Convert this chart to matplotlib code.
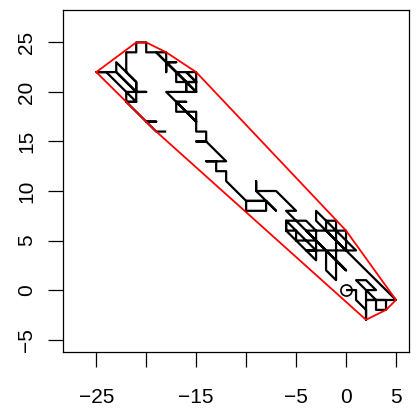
import matplotlib
matplotlib.use("Agg")
import matplotlib.pyplot as plt
import numpy as np

# lattice walk (start at the circle)
walk_start = [(0, 0), (1, 0), (1, -1), (2, -2), (2, -3), (2, -2), (2, -1), (2, 0), (1, 1), (2, 1),
              (3, 0), (2, 0), (3, -1), (2, -1), (3, -1), (3, -2), (4, -2), (4, -1), (3, -1), (4, -1),
              (5, -1), (4, 0), (3, 1), (2, 2), (1, 3), (0, 4), (-1, 5)]
walk_cluster = [(-1, 5), (-2, 6), (-3, 7), (-3, 8), (-2, 7), (-1, 6), (0, 5), (1, 4), (0, 4), (-1, 4),
                (-2, 4), (-2, 3), (-2, 2), (-1, 1), (-1, 2), (-1, 3), (0, 2), (-1, 3), (-1, 4), (-1, 5),
                (-1, 6), (-1, 7), (-2, 7), (-2, 6), (-1, 6), (0, 6), (0, 5), (0, 4), (-1, 5), (-2, 6),
                (-3, 6), (-3, 5), (-3, 4), (-3, 3), (-4, 4), (-3, 4), (-4, 4), (-5, 5), (-6, 6), (-5, 6),
                (-5, 5), (-4, 5), (-3, 5), (-2, 4), (-1, 3), (0, 2), (-1, 3), (-2, 4), (-3, 5), (-4, 6),
                (-3, 6), (-4, 7), (-5, 7), (-6, 7), (-6, 6), (-6, 7), (-5, 6), (-4, 5), (-3, 4), (-2, 4),
                (-3, 5), (-4, 6), (-5, 7), (-6, 8), (-5, 8)]
walk_chain = [(-5, 8), (-6, 9), (-7, 10), (-8, 10), (-9, 10), (-9, 11), (-9, 10), (-8, 9), (-7, 8), (-8, 9),
              (-9, 9), (-10, 9), (-10, 8), (-9, 8), (-8, 8), (-8, 9), (-9, 9), (-10, 9), (-11, 10), (-12, 11),
              (-12, 12), (-13, 12), (-13, 13), (-14, 13), (-13, 13), (-12, 13), (-13, 14), (-14, 15), (-15, 15),
              (-14, 15), (-14, 16), (-15, 16), (-15, 17)]
walk_top = [(-15, 17), (-15, 18), (-16, 18), (-17, 18), (-17, 19), (-16, 18), (-15, 17), (-16, 18), (-17, 19),
            (-16, 19), (-17, 19), (-18, 20), (-17, 20), (-16, 20), (-15, 20), (-15, 21), (-16, 21), (-17, 21),
            (-17, 22), (-16, 21), (-16, 20), (-16, 21), (-15, 21), (-15, 22), (-16, 22), (-15, 21), (-16, 22),
            (-17, 22), (-18, 23), (-17, 23), (-18, 23), (-18, 22), (-18, 23), (-18, 24), (-19, 24),
            (-18, 23), (-17, 22), (-16, 21), (-15, 20), (-16, 21), (-17, 22), (-18, 23), (-19, 24)]
walk_left = [(-19, 24), (-20, 24), (-20, 25), (-21, 25), (-21, 24), (-22, 24), (-22, 23), (-22, 22),
             (-23, 23), (-23, 22), (-22, 21), (-21, 20), (-22, 21), (-23, 22), (-24, 22), (-25, 22),
             (-24, 22), (-23, 21), (-22, 20), (-21, 19), (-22, 19), (-22, 20), (-21, 20), (-20, 20),
             (-21, 20), (-21, 21), (-22, 22), (-21, 21), (-21, 20), (-21, 19), (-22, 19), (-21, 18),
             (-20, 17), (-19, 17), (-20, 17), (-19, 16), (-18, 16)]

pieces = [walk_start, walk_cluster[1:], walk_chain[1:], walk_top[1:], walk_left[1:]]
pts = np.array([p for piece in pieces for p in piece], dtype=float)


def convex_hull(p):
    # monotone chain
    q = sorted(set(map(tuple, p)))

    def cross(o, a, b):
        return (a[0] - o[0]) * (b[1] - o[1]) - (a[1] - o[1]) * (b[0] - o[0])

    lower, upper = [], []
    for r in q:
        while len(lower) >= 2 and cross(lower[-2], lower[-1], r) <= 0:
            lower.pop()
        lower.append(r)
    for r in reversed(q):
        while len(upper) >= 2 and cross(upper[-2], upper[-1], r) <= 0:
            upper.pop()
        upper.append(r)
    h = lower[:-1] + upper[:-1]
    h.append(h[0])
    return np.array(h)


hull = convex_hull(pts)

plt.rcParams['font.family'] = ['Liberation Sans', 'DejaVu Sans']
fig = plt.figure(figsize=(4.2, 4.16), dpi=100)
ax = fig.add_axes([63.3 / 420, 1 - 351.5 / 416, 346.0 / 420, 341.5 / 416])

ax.plot(pts[:, 0], pts[:, 1], color='black', linewidth=1.6, solid_capstyle='butt', zorder=2)
ax.plot(hull[:, 0], hull[:, 1], color='red', linewidth=1.3, zorder=3)
ax.plot([0], [0], marker='o', markersize=8, markerfacecolor='none', markeredgecolor='black',
        markeredgewidth=1.2, linestyle='none', zorder=4)

ax.set_xlim(-28.3, 6.33)
ax.set_ylim(-6.2, 28.27)

ax.set_xticks([-25, -20, -15, -10, -5, 0, 5])
ax.set_xticklabels(['\u221225', '', '\u221215', '', '\u22125', '0', '5'])
ax.set_yticks([-5, 0, 5, 10, 15, 20, 25])
ax.set_yticklabels(['\u22125', '0', '5', '10', '15', '20', '25'], rotation=90, va='center')

ax.tick_params(direction='out', length=10.5, width=0.9, labelsize=15, color='black')
ax.tick_params(axis='x', pad=16)
ax.tick_params(axis='y', pad=9)
for s in ax.spines.values():
    s.set_linewidth(0.9)

fig.savefig('out.png', dpi=100)
